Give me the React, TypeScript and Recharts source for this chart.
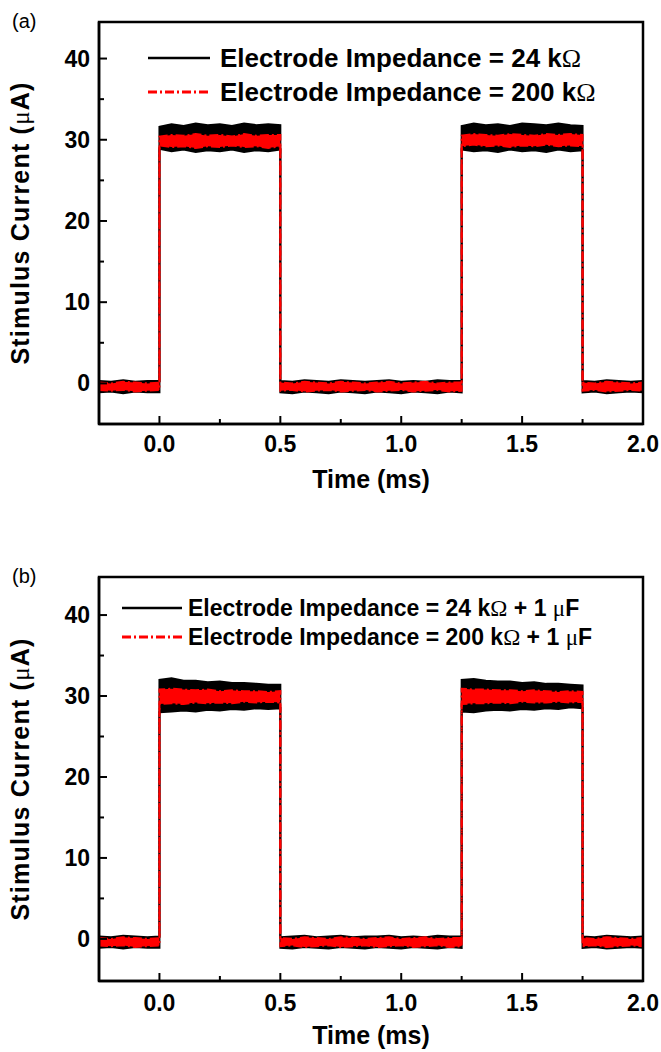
import React from "react";
import { Area, ComposedChart, Label, ReferenceArea, XAxis, YAxis } from "recharts";

// sample times (ms); edge times repeat so the band jumps straight up / down
const times = [
  -0.25, -0.2, -0.15, -0.1, -0.05, 0,
  0, 0.05, 0.1, 0.15, 0.2, 0.25, 0.3, 0.35, 0.4, 0.45, 0.5,
  0.5, 0.55, 0.6, 0.65, 0.7, 0.75, 0.8, 0.85, 0.9, 0.95, 1.0, 1.05, 1.1, 1.15, 1.2, 1.25,
  1.25, 1.3, 1.35, 1.4, 1.45, 1.5, 1.55, 1.6, 1.65, 1.7, 1.75,
  1.75, 1.8, 1.85, 1.9, 1.95, 2.0,
];

// (a) noise envelope, black = 24 kOhm, red = 200 kOhm
const aBlackHigh = [
  0.3, 0.2, 0.4, 0.2, 0.3, 0.3,
  31.6, 31.9, 31.7, 32.0, 31.8, 31.9, 31.7, 32.0, 31.8, 31.9, 31.8,
  0.3, 0.2, 0.4, 0.3, 0.2, 0.4, 0.3, 0.2, 0.3, 0.4, 0.2, 0.3, 0.2, 0.4, 0.3, 0.3,
  31.7, 32.0, 31.8, 31.9, 31.7, 32.0, 31.9, 31.8, 32.0, 31.8, 31.7,
  0.3, 0.2, 0.4, 0.3, 0.2, 0.3,
];
const aBlackLow = [
  -1.1, -1.0, -1.2, -1.0, -1.1, -1.1,
  28.9, 28.6, 28.8, 28.5, 28.7, 28.6, 28.8, 28.5, 28.7, 28.6, 28.8,
  -1.1, -1.2, -1.0, -1.1, -1.2, -1.0, -1.1, -1.2, -1.0, -1.1, -1.2, -1.0, -1.1, -1.2, -1.0, -1.1,
  28.8, 28.6, 28.7, 28.5, 28.8, 28.6, 28.7, 28.5, 28.8, 28.6, 28.7,
  -1.1, -1.0, -1.2, -1.1, -1.0, -1.1,
];
const aRedHigh = [
  0.1, 0.0, 0.2, 0.1, 0.0, 0.1,
  30.4, 30.6, 30.5, 30.7, 30.5, 30.6, 30.4, 30.7, 30.5, 30.6, 30.6,
  0.1, 0.0, 0.2, 0.1, 0.0, 0.2, 0.1, 0.0, 0.1, 0.2, 0.0, 0.1, 0.2, 0.0, 0.1, 0.1,
  30.5, 30.7, 30.6, 30.5, 30.7, 30.6, 30.5, 30.7, 30.6, 30.7, 30.6,
  0.1, 0.0, 0.2, 0.1, 0.0, 0.1,
];
const aRedLow = [
  -0.8, -0.9, -0.8, -1.0, -0.9, -0.8,
  29.3, 29.1, 29.2, 29.0, 29.2, 29.1, 29.3, 29.1, 29.2, 29.0, 29.2,
  -0.9, -0.8, -1.0, -0.9, -0.8, -1.0, -0.9, -0.8, -1.0, -0.9, -0.8, -1.0, -0.9, -0.8, -1.0, -0.9,
  29.2, 29.4, 29.2, 29.3, 29.1, 29.3, 29.2, 29.4, 29.2, 29.3, 29.2,
  -0.9, -0.8, -1.0, -0.9, -0.8, -0.9,
];

// (b) same, with the 1 uF capacitor in series (slight droop)
const bBlackHigh = [
  0.3, 0.2, 0.4, 0.3, 0.2, 0.3,
  32.0, 32.2, 31.9, 31.9, 31.7, 31.8, 31.6, 31.6, 31.5, 31.4, 31.4,
  0.2, 0.3, 0.4, 0.2, 0.3, 0.4, 0.2, 0.3, 0.3, 0.4, 0.2, 0.3, 0.2, 0.4, 0.3, 0.3,
  32.0, 32.1, 31.9, 31.8, 31.8, 31.6, 31.7, 31.5, 31.5, 31.4, 31.3,
  0.3, 0.2, 0.4, 0.3, 0.2, 0.3,
];
const bBlackLow = [
  -1.1, -1.0, -1.2, -1.0, -1.1, -1.1,
  28.0, 28.1, 28.2, 28.1, 28.3, 28.2, 28.4, 28.3, 28.5, 28.4, 28.5,
  -1.1, -1.2, -1.0, -1.1, -1.2, -1.0, -1.1, -1.2, -1.0, -1.1, -1.2, -1.0, -1.1, -1.2, -1.0, -1.1,
  28.1, 28.0, 28.2, 28.3, 28.2, 28.4, 28.3, 28.5, 28.4, 28.6, 28.5,
  -1.1, -1.0, -1.2, -1.1, -1.0, -1.1,
];
const bRedHigh = [
  0.1, 0.0, 0.2, 0.1, 0.0, 0.1,
  30.8, 30.9, 30.8, 30.7, 30.8, 30.6, 30.7, 30.6, 30.6, 30.5, 30.6,
  0.1, 0.0, 0.2, 0.1, 0.0, 0.2, 0.1, 0.0, 0.1, 0.2, 0.0, 0.1, 0.2, 0.0, 0.1, 0.1,
  30.9, 30.8, 30.8, 30.7, 30.7, 30.6, 30.7, 30.6, 30.5, 30.6, 30.5,
  0.1, 0.0, 0.2, 0.1, 0.0, 0.1,
];
const bRedLow = [
  -0.8, -0.9, -0.8, -1.0, -0.9, -0.8,
  29.0, 29.1, 29.0, 29.2, 29.1, 29.2, 29.1, 29.3, 29.2, 29.3, 29.2,
  -0.9, -0.8, -1.0, -0.9, -0.8, -1.0, -0.9, -0.8, -1.0, -0.9, -0.8, -1.0, -0.9, -0.8, -1.0, -0.9,
  29.0, 29.1, 29.1, 29.2, 29.1, 29.3, 29.2, 29.2, 29.3, 29.2, 29.3,
  -0.9, -0.8, -1.0, -0.9, -0.8, -0.9,
];

const xTicks = [0, 0.25, 0.5, 0.75, 1, 1.25, 1.5, 1.75, 2];
const xLabels = [0, 0.5, 1, 1.5, 2];
const yTicks = [0, 5, 10, 15, 20, 25, 30, 35, 40];
const yLabels = [0, 10, 20, 30, 40];
const namesA = ["Electrode Impedance = 24 kΩ", "Electrode Impedance = 200 kΩ"];
const namesB = ["Electrode Impedance = 24 kΩ + 1 μF", "Electrode Impedance = 200 kΩ + 1 μF"];

const FONT = "'Liberation Sans', Arial, sans-serif";
const GAP = 20;
const X_DOMAIN: [number, number] = [-0.25, 2];
const frame = { stroke: "#000", strokeWidth: 2.5 };
const RED_DASH = "9 3 2 3";

const toRows = (low: number[], high: number[]) =>
  times.map((t, i) => ({ t, band: [low[i], high[i]] }));

// bold text, but the Omega / mu glyphs come from a plain serif face like the original
function rich(s: string) {
  return s.split(/([Ωμ])/).map((part, i) =>
    part === "Ω" || part === "μ" ? (
      <tspan key={i} fontWeight="normal" fontFamily="'Liberation Serif', serif">
        {part}
      </tspan>
    ) : (
      <tspan key={i}>{part}</tspan>
    )
  );
}

function XTick(props: any) {
  const { x, y, payload, labelDy } = props;
  const v = payload.value;
  const axisY = y - GAP;
  const major = xLabels.includes(v);
  return (
    <g>
      <line x1={x} x2={x} y1={axisY} y2={axisY - (major ? 8 : 5)} stroke="#000" strokeWidth={2} />
      {major && (
        <text x={x} y={axisY + labelDy} textAnchor="middle" fontFamily={FONT} fontWeight="bold" fontSize={23} fill="#000">
          {v.toFixed(1)}
        </text>
      )}
    </g>
  );
}

function YTick(props: any) {
  const { x, y, payload } = props;
  const v = payload.value;
  const axisX = x + GAP;
  const major = yLabels.includes(v);
  return (
    <g>
      <line x1={axisX} x2={axisX + (major ? 8 : 5)} y1={y} y2={y} stroke="#000" strokeWidth={2} />
      {major && (
        <text x={axisX - 9} y={y + 8} textAnchor="end" fontFamily={FONT} fontWeight="bold" fontSize={23} fill="#000">
          {v}
        </text>
      )}
    </g>
  );
}

type PanelProps = {
  top: number;
  height: number;
  marginTop: number;
  marginBottom: number;
  yDomain: [number, number];
  tickDy: number;
  titleDy: number;
  tag: string;
  tagY: number;
  black: { low: number[]; high: number[] };
  red: { low: number[]; high: number[] };
  names: string[];
  legend: { x1: number; x2: number; textX: number; y1: number; y2: number; size: number };
};

function Panel(p: PanelProps) {
  const blackRows = toRows(p.black.low, p.black.high);
  const redRows = toRows(p.red.low, p.red.high);
  const lg = p.legend;
  return (
    <div style={{ position: "absolute", left: 0, top: p.top, width: 661, height: p.height }}>
      <ComposedChart
        width={661}
        height={p.height}
        margin={{ top: p.marginTop, right: 18, bottom: p.marginBottom, left: 39 }}
      >
        <XAxis
          dataKey="t"
          type="number"
          domain={X_DOMAIN}
          ticks={xTicks}
          interval={0}
          allowDataOverflow
          height={40}
          tickSize={0}
          tickMargin={GAP}
          tickLine={false}
          axisLine={frame}
          tick={(t: any) => <XTick {...t} labelDy={p.tickDy} />}
        >
          <Label
            content={(l: any) => {
              const vb = l.viewBox;
              return (
                <text x={vb.x + vb.width / 2} y={vb.y + p.titleDy} textAnchor="middle" fontFamily={FONT} fontWeight="bold" fontSize={25} fill="#000">
                  Time (ms)
                </text>
              );
            }}
          />
        </XAxis>
        <YAxis
          type="number"
          domain={p.yDomain}
          ticks={yTicks}
          interval={0}
          allowDataOverflow
          width={60}
          tickSize={0}
          tickMargin={GAP}
          tickLine={false}
          axisLine={frame}
          tick={(t: any) => <YTick {...t} />}
        >
          <Label
            content={(l: any) => {
              const vb = l.viewBox;
              const cy = vb.y + vb.height / 2;
              return (
                <text transform={`translate(29, ${cy}) rotate(-90)`} textAnchor="middle" fontFamily={FONT} fontWeight="bold" fontSize={25} letterSpacing={1.2} fill="#000">
                  {rich("Stimulus Current (μA)")}
                </text>
              );
            }}
          />
        </YAxis>
        <Area
          data={blackRows}
          dataKey="band"
          type="linear"
          fill="#000"
          fillOpacity={1}
          stroke="#000"
          strokeWidth={2}
          dot={false}
          activeDot={false}
          isAnimationActive={false}
        />
        <Area
          data={redRows}
          dataKey="band"
          type="linear"
          fill="#ff0000"
          fillOpacity={1}
          stroke="#ff0000"
          strokeWidth={2}
          strokeDasharray={RED_DASH}
          dot={false}
          activeDot={false}
          isAnimationActive={false}
        />
        {/* closed box round the plot */}
        <ReferenceArea
          x1={X_DOMAIN[0]}
          x2={X_DOMAIN[1]}
          y1={p.yDomain[0]}
          y2={p.yDomain[1]}
          fill="none"
          fillOpacity={0}
          stroke="#000"
          strokeWidth={2.5}
          ifOverflow="visible"
        />
      </ComposedChart>
      <svg width={661} height={p.height} style={{ position: "absolute", left: 0, top: 0, pointerEvents: "none" }}>
        <text x={12} y={p.tagY} fontFamily={FONT} fontSize={20} fill="#000">
          {p.tag}
        </text>
        <line x1={lg.x1} x2={lg.x2} y1={lg.y1} y2={lg.y1} stroke="#000" strokeWidth={2.5} />
        <line x1={lg.x1} x2={lg.x2} y1={lg.y2} y2={lg.y2} stroke="#ff0000" strokeWidth={3} strokeDasharray={RED_DASH} />
        {p.names.map((n, i) => (
          <text key={n} x={lg.textX} y={(i === 0 ? lg.y1 : lg.y2) + lg.size * 0.36} fontFamily={FONT} fontWeight="bold" fontSize={lg.size} fill="#000">
            {rich(n)}
          </text>
        ))}
      </svg>
    </div>
  );
}

export default function App() {
  return (
    <div style={{ position: "absolute", left: 0, top: 0, width: 661, height: 1052, background: "#fff" }}>
      <Panel
        top={0}
        height={530}
        marginTop={22}
        marginBottom={66}
        yDomain={[-5, 44.5]}
        tickDy={27.5}
        titleDy={64}
        tag="(a)"
        tagY={28}
        black={{ low: aBlackLow, high: aBlackHigh }}
        red={{ low: aRedLow, high: aRedHigh }}
        names={namesA}
        legend={{ x1: 148, x2: 210, textX: 220, y1: 58, y2: 92, size: 26 }}
      />
      <Panel
        top={540}
        height={512}
        marginTop={37}
        marginBottom={31}
        yDomain={[-5.2, 44.7]}
        tickDy={30}
        titleDy={63}
        tag="(b)"
        tagY={43}
        black={{ low: bBlackLow, high: bBlackHigh }}
        red={{ low: bRedLow, high: bRedHigh }}
        names={namesB}
        legend={{ x1: 122, x2: 182, textX: 188, y1: 68, y2: 97, size: 23 }}
      />
    </div>
  );
}
